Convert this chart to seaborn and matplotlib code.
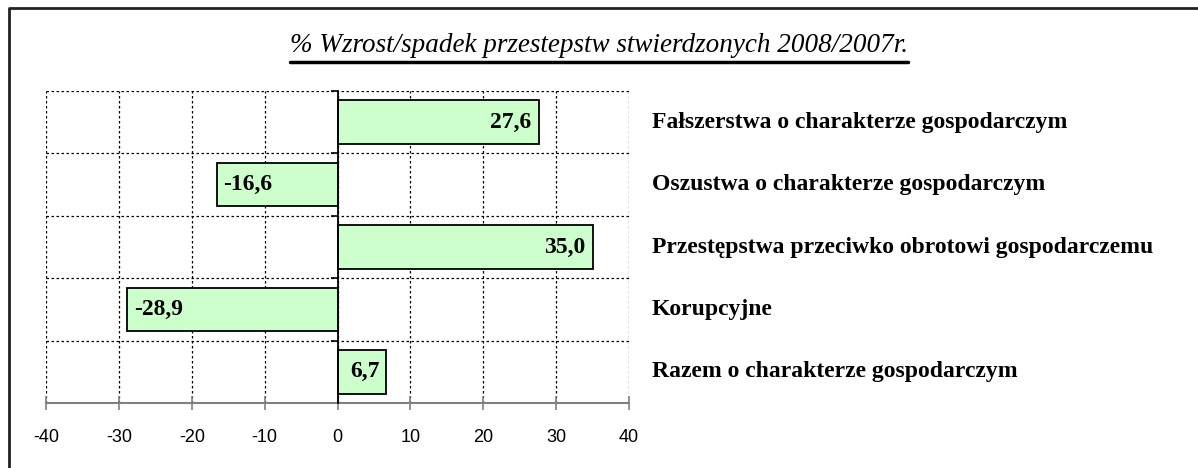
import matplotlib
matplotlib.use("Agg")
import matplotlib.pyplot as plt
from matplotlib.lines import Line2D
from matplotlib.transforms import blended_transform_factory
import pandas as pd
import seaborn as sns

# data
categories = [
    "Fałszerstwa o charakterze gospodarczym",
    "Oszustwa o charakterze gospodarczym",
    "Przestępstwa przeciwko obrotowi gospodarczemu",
    "Korupcyjne",
    "Razem o charakterze gospodarczym",
]
values = [27.6, -16.6, 35.0, -28.9, 6.7]
x_ticks = [-40, -30, -20, -10, 0, 10, 20, 30, 40]
title = "% Wzrost/spadek przestepstw stwierdzonych 2008/2007r."

df = pd.DataFrame({"kategoria": categories, "zmiana": values})

sns.set_theme(style="white")
plt.rcParams["font.family"] = ["Liberation Serif", "DejaVu Serif"]
plt.rcParams["text.color"] = "black"

W, H = 1198, 468
fig = plt.figure(figsize=(W / 100, H / 100), dpi=100)
ax = fig.add_axes([46 / W, 1 - 403 / H, (629 - 46) / W, (403 - 91) / H])

sns.barplot(data=df, y="kategoria", x="zmiana", order=categories, orient="h",
            color="#CCFFCC", saturation=1, edgecolor="black", linewidth=1.3,
            width=0.7, ax=ax, zorder=3)

ax.set_xlim(-40, 40)
ax.set_ylim(4.5, -0.5)
ax.set_xticks(x_ticks)
ax.set_xticklabels([str(t) for t in x_ticks], fontsize=13,
                   family=["Liberation Sans Narrow", "Liberation Sans", "DejaVu Sans"])
bounds = [i - 0.5 for i in range(len(categories) + 1)]
ax.set_yticks(bounds)
ax.set_yticklabels([""] * len(bounds))
ax.set_xlabel("")
ax.set_ylabel("")

# dotted grid
ax.grid(True, which="major", axis="both", color="black",
        linestyle=(0, (2, 2)), linewidth=0.9, zorder=0)
ax.set_axisbelow(True)

# spines: vertical axis at zero, gray bottom axis
for s in ["top", "right"]:
    ax.spines[s].set_visible(False)
ax.spines["left"].set_position(("data", 0))
ax.spines["left"].set_color("black")
ax.spines["left"].set_linewidth(1.3)
ax.spines["left"].set_zorder(4)
ax.spines["bottom"].set_color("#808080")
ax.spines["bottom"].set_linewidth(1.5)
ax.tick_params(axis="y", direction="out", length=5, width=1.2, color="black", left=True)
ax.tick_params(axis="x", direction="inout", length=10, width=1.2, color="#808080",
               bottom=True, pad=14, labelcolor="black")

# value labels inside bars
for i, v in enumerate(values):
    lab = f"{v:.1f}".replace(".", ",")
    if v >= 0:
        ax.annotate(lab, (v, i), xytext=(-5, 0), textcoords="offset points",
                    ha="right", va="center", fontsize=17, fontweight="bold", zorder=5)
    else:
        ax.annotate(lab, (v, i), xytext=(5, 0), textcoords="offset points",
                    ha="left", va="center", fontsize=17, fontweight="bold", zorder=5)

# category names on the right
trans = blended_transform_factory(ax.transAxes, ax.transData)
for i, c in enumerate(categories):
    ax.text(1 + 23 / (629 - 46), i, c, transform=trans, ha="left", va="center",
            fontsize=17, fontweight="bold", clip_on=False)

# underlined italic title
t = fig.text(0.5, 1 - 46 / H, title, ha="center", va="center",
             fontsize=19.5, style="italic")
fig.canvas.draw()
bb = t.get_window_extent()
uy = 1 - 62 / H
fig.add_artist(Line2D([bb.x0 / W, bb.x1 / W], [uy, uy], transform=fig.transFigure,
                      color="black", linewidth=2.5))

# outer frame (top and left edges)
fy = 1 - 7.5 / H
fx = 8.5 / W
fig.add_artist(Line2D([fx, fx, 1], [0, fy, fy], transform=fig.transFigure,
                      color="#222222", linewidth=2))

fig.savefig("out.png", dpi=100)
